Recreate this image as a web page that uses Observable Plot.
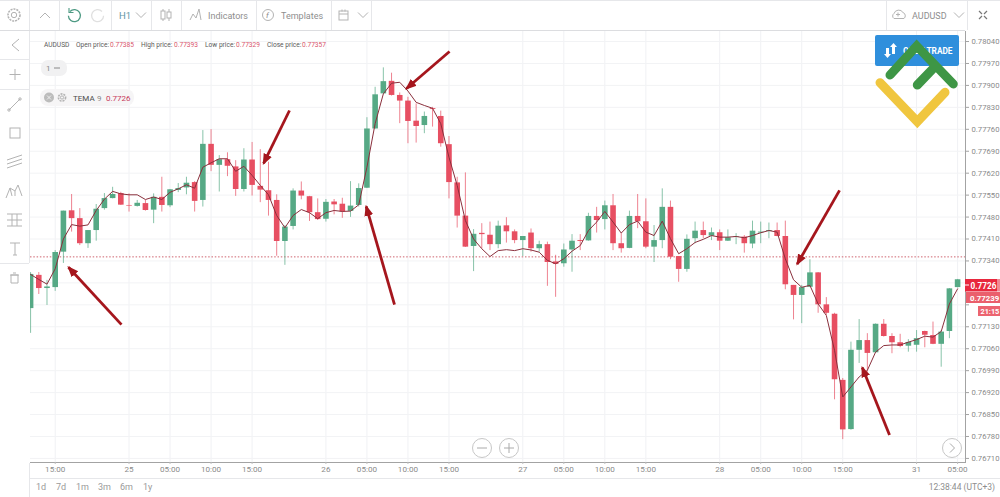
<!DOCTYPE html>
<html>
<head>
<meta charset="utf-8">
<script src="https://cdn.jsdelivr.net/npm/d3@7"></script>
<script src="https://cdn.jsdelivr.net/npm/@observablehq/plot@0.6"></script>
<style>
html,body{margin:0;padding:0;background:#fff;}
#wrap{position:relative;width:1000px;height:497px;overflow:hidden;font-family:Roboto,sans-serif;}
#wrap>svg{position:absolute;left:0;top:0;}
#chrome{pointer-events:none;}
</style>
</head>
<body>
<div id="wrap"></div>
<script>
// Prices in points (1e-5), one entry per hourly bar
const opens = [77188,77294,77252,77255,77368,77500,77475,77395,77437,77507,77539,77555,77517,77514,77523,77502,77543,77516,77565,77573,
77590,77533,77712,77645,77663,77640,77568,77662,77578,77564,77533,77402,77450,77563,77545,77494,77473,77528,77521,77498,
77517,77572,77761,77873,77913,77868,77850,77786,77772,77826,77801,77711,77589,77483,77386,77428,77422,77392,77452,77433,
77405,77429,77379,77392,77337,77331,77375,77405,77404,77482,77472,77516,77395,77380,77482,77465,77384,77405,77511,77354,
77313,77411,77437,77419,77430,77403,77416,77416,77394,77429,77434,77437,77418,77262,77230,77256,77302,77200,77170,76959,
76802,77055,77086,77047,77138,77099,77079,77068,77071,77115,77102,77074,77115,77255];
const highs = [77303,77303,77278,77373,77499,77552,77507,77437,77520,77555,77575,77559,77554,77533,77533,77554,77607,77568,77587,77607,
77593,77756,77759,77676,77685,77660,77698,77718,77695,77655,77551,77453,77570,77592,77546,77538,77536,77536,77540,77593,
77586,77797,77894,77956,77939,77876,77862,77841,77815,77830,77818,77737,77607,77621,77440,77459,77464,77467,77478,77439,
77418,77442,77403,77400,77358,77394,77424,77424,77492,77511,77531,77552,77428,77499,77552,77538,77453,77570,77531,77354,
77423,77464,77464,77445,77439,77439,77427,77421,77467,77464,77461,77461,77467,77262,77262,77344,77303,77223,77173,76965,
77081,77153,77108,77139,77153,77108,77106,77089,77118,77116,77145,77118,77252,77281];
const lows = [77109,77233,77198,77243,77332,77432,77389,77380,77403,77502,77538,77517,77496,77512,77499,77459,77496,77510,77558,77551,
77496,77512,77625,77560,77609,77546,77560,77547,77526,77483,77355,77326,77439,77535,77466,77469,77464,77487,77476,77479,
77512,77571,77761,77873,77866,77778,77714,77716,77746,77767,77703,77538,77445,77383,77306,77379,77373,77379,77397,77395,
77354,77368,77368,77259,77224,77320,77304,77373,77403,77429,77439,77373,77365,77379,77443,77379,77335,77379,77344,77272,
77304,77395,77411,77405,77373,77402,77392,77365,77379,77395,77411,77417,77248,77152,77140,77255,77173,77166,76897,76770,
76800,77013,76985,77046,77097,77044,77063,77049,77049,77063,77073,77001,77092,77254];
const closes = [77297,77252,77257,77367,77499,77475,77395,77437,77505,77539,77552,77518,77515,77524,77501,77543,77517,77567,77571,77588,
77530,77712,77645,77663,77642,77568,77662,77581,77566,77533,77402,77448,77563,77547,77494,77472,77527,77519,77496,77515,
77571,77761,77870,77912,77868,77850,77785,77769,77801,77823,77714,77590,77483,77384,77425,77424,77392,77451,77433,77405,
77418,77379,77392,77335,77329,77375,77403,77402,77482,77469,77516,77395,77379,77482,77465,77384,77405,77511,77352,77313,
77409,77435,77421,77430,77403,77414,77418,77395,77435,77432,77437,77418,77264,77230,77255,77302,77200,77173,76961,76801,
77055,77086,77045,77138,77099,77079,77067,77080,77092,77103,77074,77113,77251,77280];
const tema = [77297,77281,77266,77315,77410,77456,77451,77455,77501,77537,77562,77554,77551,77551,77536,77544,77536,77559,77570,77583,
77572,77639,77653,77666,77666,77626,77642,77613,77581,77551,77485,77446,77485,77504,77494,77475,77494,77501,77498,77499,
77519,77639,77778,77873,77907,77910,77882,77846,77836,77827,77778,77671,77581,77469,77410,77379,77354,77373,77376,77373,
77379,77375,77368,77342,77331,77347,77371,77389,77437,77464,77498,77464,77429,77456,77467,77432,77421,77467,77411,77363,
77379,77399,77409,77421,77416,77416,77418,77414,77421,77430,77437,77432,77347,77280,77256,77262,77203,77166,77055,76906,
76938,76970,76991,77049,77070,77072,77072,77081,77089,77100,77097,77115,77203,77251];

const xTickBars = [3,12,17,22,27,36,41,46,51,60,65,70,75,84,89,94,99,108,113];
const xTickLabels = ["15:00","25","05:00","10:00","15:00","26","05:00","10:00","15:00","27","05:00","10:00","15:00","28","05:00","10:00","15:00","31","05:00"];
const yTicks = [0.7804,0.7797,0.779,0.7783,0.7776,0.7769,0.7762,0.7755,0.7748,0.7741,0.7734,0.7727,0.772,0.7713,0.7706,0.7699,0.7692,0.7685,0.7678,0.7671];
const lastPrice = 0.77353;

// Annotation arrows: bar index and price at tail and tip
const arrowX1 = [11.08,31.56,44.36,51.07,98.61,104.7];
const arrowP1 = [77137,77820,77201,78008,77565,76785];
const arrowX2 = [4.62,28.4,40.91,45.82,93.45,101.38];
const arrowP2 = [77320,77651,77514,77890,77330,77000];

const GREEN = "#56a985", RED = "#e74f62";
const bars = opens.map((o,i)=>({i,open:o/1e5,high:highs[i]/1e5,low:lows[i]/1e5,close:closes[i]/1e5,tema:tema[i]/1e5,dir:closes[i]>=o?"up":"down"}));
const arrows = arrowX1.map((x,k)=>({x1:x,y1:arrowP1[k]/1e5,x2:arrowX2[k],y2:arrowP2[k]/1e5}));

function filledHead(color, context){
  const ns="http://www.w3.org/2000/svg", doc=context.document;
  const m=doc.createElementNS(ns,"marker");
  m.setAttribute("viewBox","-5 -5 10 10");
  m.setAttribute("markerWidth","4");
  m.setAttribute("markerHeight","4");
  m.setAttribute("refX","3.5");
  m.setAttribute("refY","0");
  m.setAttribute("orient","auto");
  const p=doc.createElementNS(ns,"path");
  p.setAttribute("d","M-5,-4L5,0L-5,4z");
  p.setAttribute("fill",color);
  p.setAttribute("stroke","none");
  m.appendChild(p);
  return m;
}
const yFmt=d3.format(".5f");
// 0.77270 and 0.77200 sit behind the live-price tags on the right
const yLabel=v=>(v===0.7727||v===0.772)?"":yFmt(v);

const chart = Plot.plot({
  width:1000,height:497,
  marginLeft:30,marginRight:35,marginTop:31,marginBottom:35,
  style:{fontFamily:"Roboto,sans-serif",background:"transparent",overflow:"hidden"},
  x:{type:"linear",domain:[-0.01,114],range:[30,965.3],axis:null},
  y:{type:"linear",domain:[0.76697,0.78072],range:[462,31],axis:null},
  color:{type:"ordinal",domain:["up","down"],range:[GREEN,RED]},
  marks:[
    Plot.gridX(xTickBars,{stroke:"#f0f1f4",strokeOpacity:1}),
    Plot.gridY(yTicks,{stroke:"#f2f3f5",strokeOpacity:1}),
    Plot.ruleY([lastPrice],{stroke:"#c9525f",strokeWidth:0.9,strokeDasharray:"1.5,1.8"}),
    Plot.ruleX(bars,{x:"i",y1:"low",y2:"high",stroke:"dir",strokeWidth:1,strokeOpacity:0.7,clip:"frame"}),
    Plot.ruleX(bars,{x:"i",y1:"open",y2:"close",stroke:"dir",strokeWidth:5.6,clip:"frame"}),
    Plot.line(bars,{x:"i",y:"tema",stroke:"#8a2f3c",strokeWidth:1,clip:"frame"}),
    Plot.link(arrows,{x1:"x1",y1:"y1",x2:"x2",y2:"y2",stroke:"#a5161d",strokeWidth:2.8,markerEnd:filledHead}),
    Plot.frame({anchor:"right",stroke:"#a3a3a3"}),
    Plot.frame({anchor:"bottom",stroke:"#a3a3a3"}),
    Plot.axisY(yTicks,{anchor:"right",tickFormat:yLabel,tickSize:3,tickPadding:3,fontSize:7.7,stroke:"#a3a3a3",color:"#8a8a8a",label:null}),
    Plot.axisX(xTickBars,{anchor:"bottom",tickFormat:d=>xTickLabels[xTickBars.indexOf(d)],tickSize:2,tickPadding:2,fontSize:8.1,stroke:"#bdbdbd",color:"#8a8a8a",label:null})
  ]
});
const wrap = document.getElementById("wrap");
wrap.appendChild(chart);

// Trading-terminal chrome around the chart
const ic="#b3b3b3", tx="#8e8e8e", ln="#e6e7ea";
const sep=(x1,y1,x2,y2,c)=>`<line x1="${x1}" y1="${y1}" x2="${x2}" y2="${y2}" stroke="${c||ln}"/>`;
const t=(x,y,s,size,fill,extra)=>`<text x="${x}" y="${y}" font-size="${size}" fill="${fill}" ${extra||""}>${s}</text>`;
const chev=(x,y)=>`<path d="M${x-5} ${y-2.5}L${x} ${y+2.5}L${x+5} ${y-2.5}" fill="none" stroke="${ic}"/>`;
const gear=(x,y,r)=>`<circle cx="${x}" cy="${y}" r="${r}" fill="none" stroke="${ic}" stroke-width="1.6" stroke-dasharray="2 1"/><circle cx="${x}" cy="${y}" r="${r*.45}" fill="none" stroke="${ic}"/>`;
const legend=[[44,"AUDUSD"],[76,"Open price:"],[141,"High price:"],[205,"Low price:"],[267,"Close price:"]];
const legendVal=[[110,"0.77385"],[174,"0.77393"],[236,"0.77329"],[302,"0.77357"]];
const chrome=`<svg id="chrome" width="1000" height="497" viewBox="0 0 1000 497" style="font-family:Roboto,sans-serif">
${sep(0,0.5,1000,0.5)}${sep(0,30.5,965,30.5,"#dcdde0")}
${[29.5,59.5,111.5,151.5,181.5,256.5,331.5,371.5,886.5,967.5].map(x=>sep(x,0,x,30)).join("")}
${gear(14,15,6)}
<path d="M40 18L45 13L50 18" fill="none" stroke="${ic}"/>
<path d="M70 11.5a6 6 0 1 1 -1.6 4.2" fill="none" stroke="#4d9a83" stroke-width="1.3"/><path d="M69 8v4.5h4.5" fill="none" stroke="#4d9a83" stroke-width="1.1"/>
<path d="M102 11.5a6 6 0 1 0 1.6 4.2" fill="none" stroke="#e0e0e0" stroke-width="1.3"/>
${t(119,18.5,"H1",9.5,"#5f96a3")}${chev(141,15)}
<path d="M163 9v12M169 9v12" stroke="${ic}" stroke-width="1"/><rect x="161" y="11" width="4" height="8" fill="#fff" stroke="${ic}"/><rect x="167" y="12" width="4" height="6" fill="#fff" stroke="${ic}"/>
<path d="M190 20L193 14L196 18L199 9L201 20" fill="none" stroke="${ic}"/>
${t(208,18.5,"Indicators",9,tx)}
<circle cx="268" cy="15" r="5.5" fill="none" stroke="${ic}"/>${t(266,18,"f",8,tx,'font-style="italic"')}
${t(281,18.5,"Templates",9,tx)}
<rect x="339" y="11" width="9" height="9" fill="none" stroke="${ic}"/><path d="M339 14h9M342 9.5v2M345 9.5v2" stroke="${ic}"/>${chev(363,15)}
<path d="M894 18.5a3 3 0 0 1 0 -5a5 5 0 0 1 9 -1a3.5 3.5 0 0 1 1 6z" fill="none" stroke="${ic}"/><path d="M898 12.5v4M896 14.5h4" stroke="${ic}"/>
${t(912,18.5,"AUDUSD",9,tx)}${chev(959,15)}
<path d="M979 11l3 3M979 19l3-3M987 11l-3 3M987 19l-3-3" stroke="#777" stroke-width="1.2"/>
${sep(29.5,31,29.5,263)}${sep(0,59.5,29,59.5)}${sep(0,89.5,29,89.5)}${sep(0,263.5,29,263.5)}${sep(29.5,463,29.5,497)}
<path d="M19 39L12 45L19 51" fill="none" stroke="${ic}"/>
<path d="M15 69v11M9.5 74.5h11" stroke="${ic}"/>
<path d="M9 110L20 99" stroke="${ic}"/><circle cx="9" cy="110" r="1.2" fill="none" stroke="${ic}"/><circle cx="20" cy="99" r="1.2" fill="none" stroke="${ic}"/>
<rect x="10" y="128" width="10" height="10" fill="none" stroke="${ic}"/>
<path d="M7 160L22 155M7 164L22 159M7 168L22 163" stroke="${ic}"/>
<path d="M6 198L10 188L15 191L18 185L22 196M10 188L12 196M15 191L15 196" fill="none" stroke="${ic}"/>
<path d="M7 214h15M7 220h15M7 226h15M12 214v12M17 214v12" stroke="${ic}" fill="none"/>
<path d="M10 243h10M15 243v12M13 255h4" stroke="${ic}" fill="none"/>
<path d="M11 275v8h7v-8zM10 275h9M13 273h3" fill="none" stroke="${ic}"/>
${legend.map(([x,s])=>t(x,47.3,s,6.6,"#5a5a5a")).join("")}
${legendVal.map(([x,s])=>t(x,47.3,s,6.6,"#d9566c")).join("")}
<rect x="41" y="60" width="26" height="16" rx="7" fill="#f1f1f2"/>${t(46,71,"1",8,"#888")}<path d="M54 68h6" stroke="#888"/>
<rect x="40" y="89" width="94" height="17" rx="8" fill="#f6f5f6"/>
<circle cx="49" cy="97.5" r="5" fill="#bcbcbc"/><path d="M47 95.5l4 4M51 95.5l-4 4" stroke="#eee"/>${gear(62,97.5,3.6)}
${t(73,100.5,"TEMA",8,"#4d4d4d")}${t(97,100.5,"9",8,"#888")}${t(106,100.5,"0.7726",8,"#c6395a")}
<rect x="875" y="35" width="84" height="31" rx="2" fill="#2f8fdc"/>
<path d="M893.5 43l3.5 4h-2v7h-3v-7h-2zM887.5 58l-3.5 -4h2v-6h3v6h2z" fill="#fff"/>
${t(903,53.5,"OPEN TRADE",8.3,"#fff",'font-weight="700"')}
<path d="M880 82.7L917.3 121.7L945 92.3" fill="none" stroke="#f0c63f" stroke-width="9" stroke-linecap="round" stroke-linejoin="miter"/>
<path d="M890 75L916.7 46L953.3 84M917.3 85L935 66.7" fill="none" stroke="#3e9645" stroke-width="9" stroke-linecap="round" stroke-linejoin="miter"/>
<circle cx="482" cy="448" r="9.5" fill="#fff" stroke="#c7c7c7"/><path d="M477 448h10" stroke="#aaa"/>
<circle cx="509" cy="448" r="9.5" fill="#fff" stroke="#c7c7c7"/><path d="M504 448h10M509 443v10" stroke="#aaa"/>
<circle cx="952" cy="448" r="9.5" fill="#fff" stroke="#c7c7c7"/><path d="M950 443.5l4.5 4.5l-4.5 4.5" fill="none" stroke="#aaa"/>
${sep(30,478.5,1000,478.5)}
${[[36,"1d"],[56,"7d"],[76,"1m"],[98,"3m"],[120,"6m"],[143,"1y"]].map(([x,s])=>t(x,490,s,9,"#9a9a9a")).join("")}
${t(995,490,"12:38:44 (UTC+3)",8.5,"#8e8e8e",'text-anchor="end"')}
<rect x="965" y="279" width="32" height="12.5" fill="#e8283e"/><rect x="997" y="279" width="3" height="12.5" fill="#f08a94"/><path d="M965 285h4" stroke="#fff"/>${t(970.5,288.5,"0.7726",8.2,"#fff",'font-weight="700"')}
<rect x="966" y="292" width="34" height="11" fill="#ea5f6c"/>${t(970,300.8,"0.77239",7.8,"#fff",'font-weight="700"')}
<rect x="978" y="306" width="22" height="10" fill="#ec6470"/>${t(980.5,314,"21:15",7.3,"#fff",'font-weight="700"')}
</svg>`;
wrap.insertAdjacentHTML("beforeend",chrome);
</script>
</body>
</html>
